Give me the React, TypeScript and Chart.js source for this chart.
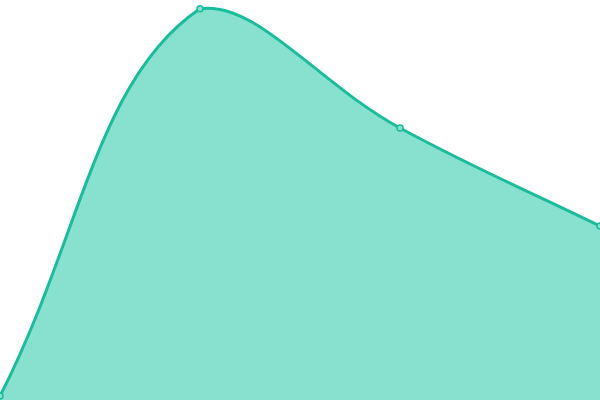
import { useEffect, useRef } from "react";
import { Chart, registerables, type ChartConfiguration } from "chart.js";

Chart.register(...registerables);

const LABELS = ["A", "B", "C", "D"];
const VALUES = [1, 97.8, 68, 43.5];

export default function App() {
  const canvasRef = useRef<HTMLCanvasElement>(null);
  const chartRef = useRef<Chart<"line"> | null>(null);

  useEffect(() => {
    document.body.style.margin = "0";
    if (!canvasRef.current) return;
    const config: ChartConfiguration<"line"> = {
      type: "line",
      data: {
        labels: LABELS,
        datasets: [
          {
            data: VALUES,
            fill: "start",
            backgroundColor: "#88e0cf",
            borderColor: "#1abc9c",
            borderWidth: 3,
            tension: 0.4,
            pointRadius: 3,
            pointBorderWidth: 1.5,
            pointBackgroundColor: "#88e0cf",
            pointBorderColor: "#1abc9c",
          },
        ],
      },
      options: {
        animation: false,
        responsive: true,
        maintainAspectRatio: false,
        layout: { padding: 0, autoPadding: false },
        scales: {
          x: { display: false },
          y: { display: false, min: 0, max: 100 },
        },
        plugins: {
          legend: { display: false },
          tooltip: { enabled: false },
        },
      },
    };
    chartRef.current = new Chart(canvasRef.current, config);
    return () => {
      chartRef.current?.destroy();
      chartRef.current = null;
    };
  }, []);

  return (
    <div style={{ position: "absolute", left: 0, top: 0, width: 600, height: 400 }}>
      <canvas ref={canvasRef} />
    </div>
  );
}
